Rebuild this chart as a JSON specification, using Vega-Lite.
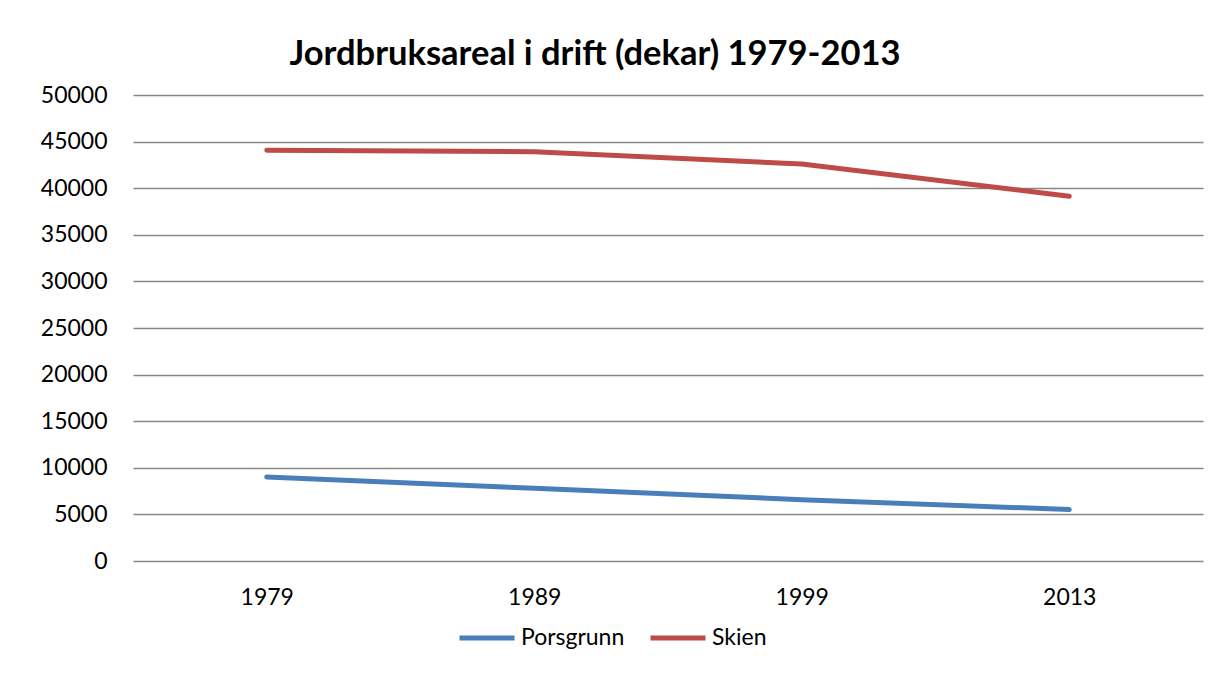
{
  "$schema": "https://vega.github.io/schema/vega-lite/v6.json",
  "width": 1070,
  "height": 466,
  "autosize": {"type": "none"},
  "padding": {"left": 133, "top": 95, "right": 10, "bottom": 114},
  "background": "white",
  "title": {
    "text": "Jordbruksareal i drift (dekar) 1979-2013",
    "font": "Lato",
    "fontSize": 34.5,
    "fontWeight": "bold",
    "color": "#000000",
    "anchor": "middle",
    "dx": -73,
    "offset": 12
  },
  "data": {
    "values": [
      {"year": "1979", "kommune": "Porsgrunn", "dekar": 9020},
      {"year": "1989", "kommune": "Porsgrunn", "dekar": 7800},
      {"year": "1999", "kommune": "Porsgrunn", "dekar": 6580},
      {"year": "2013", "kommune": "Porsgrunn", "dekar": 5520},
      {"year": "1979", "kommune": "Skien", "dekar": 44070},
      {"year": "1989", "kommune": "Skien", "dekar": 43920},
      {"year": "1999", "kommune": "Skien", "dekar": 42600},
      {"year": "2013", "kommune": "Skien", "dekar": 39140}
    ]
  },
  "mark": {"type": "line", "strokeWidth": 5, "strokeCap": "round", "strokeJoin": "round"},
  "encoding": {
    "x": {
      "field": "year",
      "type": "ordinal",
      "scale": {"type": "point", "padding": 0.5},
      "axis": {
        "title": null,
        "labelAngle": 0,
        "labelFont": "Lato",
        "labelFontSize": 23,
        "labelColor": "#000000",
        "labelPadding": 25,
        "ticks": false,
        "domain": false,
        "grid": false
      }
    },
    "y": {
      "field": "dekar",
      "type": "quantitative",
      "scale": {"domain": [0, 50000], "nice": false},
      "axis": {
        "title": null,
        "values": [0, 5000, 10000, 15000, 20000, 25000, 30000, 35000, 40000, 45000, 50000],
        "format": "d",
        "labelFont": "Lato",
        "labelFontSize": 23,
        "labelColor": "#000000",
        "labelPadding": 26,
        "ticks": false,
        "domain": false,
        "grid": true,
        "gridColor": "#868686",
        "gridWidth": 1.5
      }
    },
    "color": {
      "field": "kommune",
      "type": "nominal",
      "scale": {"domain": ["Porsgrunn", "Skien"], "range": ["#4A7EBB", "#BE4B48"]},
      "legend": {
        "title": null,
        "orient": "none",
        "legendX": 324,
        "legendY": 513,
        "direction": "horizontal",
        "symbolType": "stroke",
        "symbolSize": 3025,
        "symbolStrokeWidth": 5,
        "labelFont": "Lato",
        "labelFontSize": 23,
        "labelColor": "#000000",
        "labelOffset": 4,
        "columnPadding": 15
      }
    }
  },
  "config": {"view": {"stroke": null}}
}
